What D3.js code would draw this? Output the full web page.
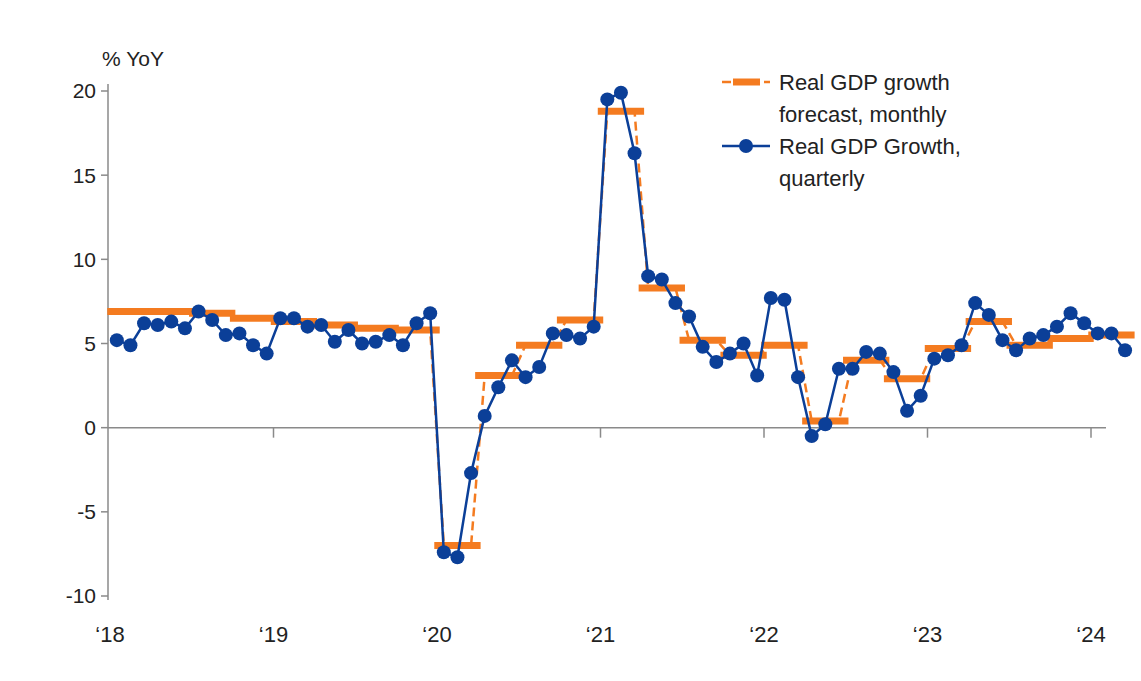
<!DOCTYPE html>
<html><head><meta charset="utf-8">
<script src="https://cdn.jsdelivr.net/npm/d3@7"></script>
<style>body{margin:0;background:#fff}svg{font-family:"Liberation Sans",Arial,sans-serif}</style>
</head><body><svg id="chart"></svg>
<script>
// monthly actuals, Jan 2018 .. Mar 2024
const actual = [
  5.2, 4.9, 6.2, 6.1, 6.3, 5.9, 6.9, 6.4, 5.5, 5.6, 4.9, 4.4,
  6.5, 6.5, 6.0, 6.1, 5.1, 5.8, 5.0, 5.1, 5.5, 4.9, 6.2, 6.8,
  -7.4, -7.7, -2.7, 0.7, 2.4, 4.0, 3.0, 3.6, 5.6, 5.5, 5.3, 6.0,
  19.5, 19.9, 16.3, 9.0, 8.8, 7.4, 6.6, 4.8, 3.9, 4.4, 5.0, 3.1,
  7.7, 7.6, 3.0, -0.5, 0.2, 3.5, 3.5, 4.5, 4.4, 3.3, 1.0, 1.9,
  4.1, 4.3, 4.9, 7.4, 6.7, 5.2, 4.6, 5.3, 5.5, 6.0, 6.8, 6.2,
  5.6, 5.6, 4.6
];
// quarterly forecast level, 2018Q1 .. 2024Q1
const forecast = [
  6.9, 6.9, 6.8, 6.5,
  6.3, 6.1, 5.9, 5.8,
  -7.0, 3.1, 4.9, 6.4,
  18.8, 8.3, 5.2, 4.3,
  4.9, 0.4, 4.0, 2.9,
  4.7, 6.3, 4.9, 5.3,
  5.5
];
const yearLabels = ["‘18", "‘19", "‘20", "‘21", "‘22", "‘23", "‘24"];
const yTicks = [-10, -5, 0, 5, 10, 15, 20];

const width = 1141, height = 681;
const blue = "#0b3f98", orange = "#f47b20", grey = "#8a8a8a";

const svg = d3.select("#chart").attr("width", width).attr("height", height);

const x = d3.scaleLinear().domain([0, 72]).range([110, 1091]);
const y = d3.scaleLinear().domain([-10, 20]).range([596, 91]);

// axes
svg.append("line").attr("x1", 108).attr("x2", 108).attr("y1", 84).attr("y2", 600)
  .attr("stroke", grey).attr("stroke-width", 1.5);
svg.append("line").attr("x1", 108).attr("x2", x(73.1)).attr("y1", y(0)).attr("y2", y(0))
  .attr("stroke", grey).attr("stroke-width", 1.5);

svg.selectAll(".ytick").data(yTicks).enter().append("line")
  .attr("x1", 101).attr("x2", 108).attr("y1", d => y(d)).attr("y2", d => y(d))
  .attr("stroke", grey).attr("stroke-width", 1.5);
svg.selectAll(".ylab").data(yTicks).enter().append("text")
  .attr("x", 96).attr("y", d => y(d)).attr("dy", "0.35em")
  .attr("text-anchor", "end").attr("font-size", 21).attr("fill", "#222")
  .text(d => d);

svg.selectAll(".xtick").data(yearLabels).enter().append("line")
  .filter((d, i) => i > 0)
  .attr("x1", (d, i) => x((i + 1) * 12)).attr("x2", (d, i) => x((i + 1) * 12))
  .attr("y1", y(0)).attr("y2", y(0) + 10)
  .attr("stroke", grey).attr("stroke-width", 1.5);
svg.selectAll(".xlab").data(yearLabels).enter().append("text")
  .attr("x", (d, i) => x(i * 12)).attr("y", 642)
  .attr("text-anchor", "middle").attr("font-size", 22).attr("fill", "#222")
  .text(d => d);

svg.append("text").attr("x", 102).attr("y", 66).attr("font-size", 21).attr("fill", "#222")
  .text("% YoY");

// forecast: dashed monthly line + thick quarterly bars
const fMonthly = actual.map((d, i) => forecast[Math.floor(i / 3)]);
svg.append("path").datum(fMonthly)
  .attr("fill", "none").attr("stroke", orange).attr("stroke-width", 2.5)
  .attr("stroke-dasharray", "9,5")
  .attr("d", d3.line().x((d, i) => x(i + 0.5)).y(d => y(d)));

svg.selectAll(".fbar").data(forecast).enter().append("line")
  .attr("x1", (d, i) => x(i * 3 - 0.2)).attr("x2", (d, i) => x(i * 3 + 3.2))
  .attr("y1", d => y(d)).attr("y2", d => y(d))
  .attr("stroke", orange).attr("stroke-width", 7);

// actual
svg.append("path").datum(actual)
  .attr("fill", "none").attr("stroke", blue).attr("stroke-width", 2.5)
  .attr("d", d3.line().x((d, i) => x(i + 0.5)).y(d => y(d)));
svg.selectAll(".pt").data(actual).enter().append("circle")
  .attr("cx", (d, i) => x(i + 0.5)).attr("cy", d => y(d)).attr("r", 7)
  .attr("fill", blue);

// legend
const lg = svg.append("g");
lg.append("line").attr("x1", 722).attr("x2", 770).attr("y1", 82).attr("y2", 82)
  .attr("stroke", orange).attr("stroke-width", 2.5).attr("stroke-dasharray", "9,5");
lg.append("line").attr("x1", 733).attr("x2", 760).attr("y1", 82).attr("y2", 82)
  .attr("stroke", orange).attr("stroke-width", 7);
lg.append("line").attr("x1", 722).attr("x2", 770).attr("y1", 146).attr("y2", 146)
  .attr("stroke", blue).attr("stroke-width", 2.5);
lg.append("circle").attr("cx", 746).attr("cy", 146).attr("r", 7).attr("fill", blue);
const legendText = [["Real GDP growth", 82], ["forecast, monthly", 114], ["Real GDP Growth,", 146], ["quarterly", 178]];
lg.selectAll("text").data(legendText).enter().append("text")
  .attr("x", 779).attr("y", d => d[1]).attr("dy", "0.35em")
  .attr("font-size", 22).attr("fill", "#222").text(d => d[0]);
</script></body></html>
